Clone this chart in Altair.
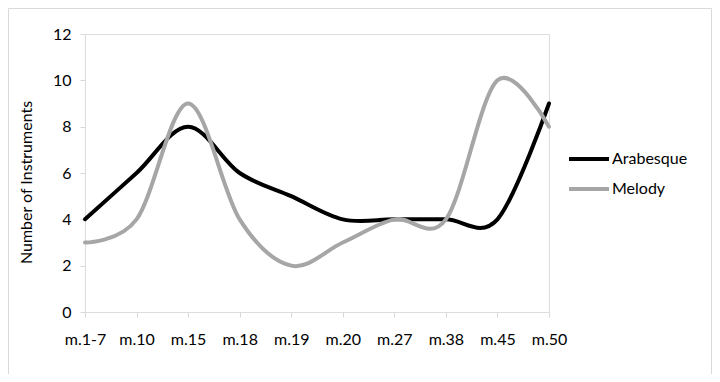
import altair as alt
import pandas as pd

categories = ["m.1-7", "m.10", "m.15", "m.18", "m.19", "m.20", "m.27", "m.38", "m.45", "m.50"]
arabesque = [4, 6, 8, 6, 5, 4, 4, 4, 4, 9]
melody = [3, 4, 9, 4, 2, 3, 4, 4, 10, 8]
series_names = ["Arabesque", "Melody"]
y_ticks = [0, 2, 4, 6, 8, 10, 12]

rows = []
for i, c in enumerate(categories):
    rows.append({"section": c, "order": i, "series": "Arabesque", "value": arabesque[i]})
    rows.append({"section": c, "order": i, "series": "Melody", "value": melody[i]})
df = pd.DataFrame(rows)

FONT = "Lato"

lines = alt.Chart(df).mark_line(
    interpolate="cardinal", strokeWidth=4, strokeCap="round", clip=False
).encode(
    x=alt.X("section:N", sort=categories,
            scale=alt.Scale(type="point", padding=0),
            axis=alt.Axis(title=None, labelAngle=0, domain=False, grid=False,
                          ticks=True, tickColor="#d9d9d9", tickSize=5,
                          labelPadding=14, labelFontSize=16, labelColor="#000000",
                          labelFont=FONT)),
    y=alt.Y("value:Q", scale=alt.Scale(domain=[0, 12], nice=False),
            axis=alt.Axis(title="Number of Instruments", values=y_ticks,
                          domain=False, grid=False, ticks=True,
                          tickColor="#d9d9d9", tickSize=5, labelPadding=9,
                          labelFontSize=16, labelColor="#000000", labelFont=FONT,
                          titleFontSize=16, titleFontWeight="normal",
                          titleFont=FONT, titleColor="#000000", titlePadding=18,
                          titleY=148)),
    color=alt.Color("series:N", sort=series_names,
                    scale=alt.Scale(domain=series_names, range=["#000000", "#a6a6a6"]),
                    legend=alt.Legend(title=None, orient="none", legendX=482, legendY=103,
                                      symbolType="stroke", symbolSize=1600,
                                      symbolStrokeWidth=4, labelFontSize=16,
                                      labelFont=FONT, labelColor="#000000",
                                      rowPadding=-9, labelOffset=1)),
    order=alt.Order("order:Q"),
)

border = alt.Chart(pd.DataFrame({"k": [0]})).mark_rect(
    fill=None, stroke="#d9d9d9", strokeWidth=1, clip=False
).encode(
    x=alt.value(-76.5), x2=alt.value(626.5), y=alt.value(-25.5), y2=alt.value(340.5)
)

chart = alt.layer(border, lines).properties(
    width=464, height=278,
    padding={"left": 77, "top": 26, "right": 163, "bottom": 62},
    autosize=alt.AutoSizeParams(type="none"),
).configure_view(stroke="#000000", strokeWidth=1.2).configure(background="white")

chart.save("out.html", embed_options={"renderer": "svg", "actions": False})
